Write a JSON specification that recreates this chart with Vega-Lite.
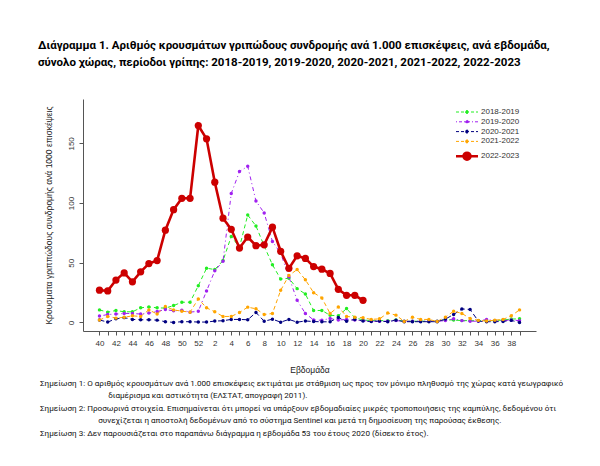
{
"$schema": "https://vega.github.io/schema/vega-lite/v6.json",
"padding": {"left": 38, "top": 39, "right": 5, "bottom": 5},
"config": {
  "view": {"stroke": null},
  "font": "Liberation Sans",
  "axis": {"labelFont": "Liberation Sans", "titleFont": "Liberation Sans", "labelColor": "#333", "titleColor": "#222", "domainColor": "#555", "tickColor": "#555", "grid": false},
  "legend": {"labelFont": "Liberation Sans"},
  "concat": {"spacing": 0}
},
"datasets": {"flu": [
{"season":"2018-2019","week":40,"cases":10.5},{"season":"2018-2019","week":41,"cases":8.6},{"season":"2018-2019","week":42,"cases":10},{"season":"2018-2019","week":43,"cases":8.9},{"season":"2018-2019","week":44,"cases":8.9},{"season":"2018-2019","week":45,"cases":12.2},{"season":"2018-2019","week":46,"cases":13},{"season":"2018-2019","week":47,"cases":12.2},{"season":"2018-2019","week":48,"cases":12},{"season":"2018-2019","week":49,"cases":14.1},{"season":"2018-2019","week":50,"cases":16.9},{"season":"2018-2019","week":51,"cases":16.9},{"season":"2018-2019","week":52,"cases":30.8},{"season":"2018-2019","week":1,"cases":45.4},{"season":"2018-2019","week":2,"cases":44.3},{"season":"2018-2019","week":3,"cases":51.8},{"season":"2018-2019","week":4,"cases":72},{"season":"2018-2019","week":5,"cases":63},{"season":"2018-2019","week":6,"cases":90},{"season":"2018-2019","week":7,"cases":80.8},{"season":"2018-2019","week":8,"cases":64},{"season":"2018-2019","week":9,"cases":48.3},{"season":"2018-2019","week":10,"cases":36.3},{"season":"2018-2019","week":11,"cases":37},{"season":"2018-2019","week":12,"cases":28.3},{"season":"2018-2019","week":13,"cases":23.8},{"season":"2018-2019","week":14,"cases":10},{"season":"2018-2019","week":15,"cases":10},{"season":"2018-2019","week":16,"cases":6},{"season":"2018-2019","week":17,"cases":5.5},{"season":"2018-2019","week":18,"cases":11.6},{"season":"2018-2019","week":19,"cases":4},{"season":"2018-2019","week":20,"cases":2},{"season":"2018-2019","week":21,"cases":1.5},{"season":"2018-2019","week":22,"cases":1.5},{"season":"2018-2019","week":23,"cases":1.5},{"season":"2018-2019","week":24,"cases":2},{"season":"2018-2019","week":25,"cases":1},{"season":"2018-2019","week":26,"cases":1},{"season":"2018-2019","week":27,"cases":1},{"season":"2018-2019","week":28,"cases":1},{"season":"2018-2019","week":29,"cases":1},{"season":"2018-2019","week":30,"cases":2.2},{"season":"2018-2019","week":31,"cases":2},{"season":"2018-2019","week":32,"cases":1.5},{"season":"2018-2019","week":33,"cases":1.5},{"season":"2018-2019","week":34,"cases":1.5},{"season":"2018-2019","week":35,"cases":1.5},{"season":"2018-2019","week":36,"cases":1.5},{"season":"2018-2019","week":37,"cases":2},{"season":"2018-2019","week":38,"cases":2.8},{"season":"2018-2019","week":39,"cases":3},
{"season":"2019-2020","week":40,"cases":5.3},{"season":"2019-2020","week":41,"cases":6.6},{"season":"2019-2020","week":42,"cases":7},{"season":"2019-2020","week":43,"cases":7.5},{"season":"2019-2020","week":44,"cases":7.5},{"season":"2019-2020","week":45,"cases":7},{"season":"2019-2020","week":46,"cases":7.8},{"season":"2019-2020","week":47,"cases":9.1},{"season":"2019-2020","week":48,"cases":10.8},{"season":"2019-2020","week":49,"cases":9.7},{"season":"2019-2020","week":50,"cases":10.2},{"season":"2019-2020","week":51,"cases":8.6},{"season":"2019-2020","week":52,"cases":9.3},{"season":"2019-2020","week":1,"cases":26.3},{"season":"2019-2020","week":2,"cases":43.2},{"season":"2019-2020","week":3,"cases":51.3},{"season":"2019-2020","week":4,"cases":108},{"season":"2019-2020","week":5,"cases":126.4},{"season":"2019-2020","week":6,"cases":130.8},{"season":"2019-2020","week":7,"cases":101.7},{"season":"2019-2020","week":8,"cases":91.7},{"season":"2019-2020","week":9,"cases":67.8},{"season":"2019-2020","week":10,"cases":58},{"season":"2019-2020","week":11,"cases":38},{"season":"2019-2020","week":12,"cases":18.5},{"season":"2019-2020","week":13,"cases":7.5},{"season":"2019-2020","week":14,"cases":2},{"season":"2019-2020","week":15,"cases":1.8},{"season":"2019-2020","week":16,"cases":3.3},{"season":"2019-2020","week":17,"cases":2},{"season":"2019-2020","week":18,"cases":2.5},{"season":"2019-2020","week":19,"cases":2},{"season":"2019-2020","week":20,"cases":1.5},{"season":"2019-2020","week":21,"cases":1},{"season":"2019-2020","week":22,"cases":1},{"season":"2019-2020","week":23,"cases":1},{"season":"2019-2020","week":24,"cases":1.5},{"season":"2019-2020","week":25,"cases":1},{"season":"2019-2020","week":26,"cases":1},{"season":"2019-2020","week":27,"cases":1},{"season":"2019-2020","week":28,"cases":1},{"season":"2019-2020","week":29,"cases":1},{"season":"2019-2020","week":30,"cases":1.5},{"season":"2019-2020","week":31,"cases":3},{"season":"2019-2020","week":32,"cases":1.5},{"season":"2019-2020","week":33,"cases":1},{"season":"2019-2020","week":34,"cases":1},{"season":"2019-2020","week":35,"cases":2.5},{"season":"2019-2020","week":36,"cases":1.5},{"season":"2019-2020","week":37,"cases":1.5},{"season":"2019-2020","week":38,"cases":2},{"season":"2019-2020","week":39,"cases":1.5},
{"season":"2020-2021","week":40,"cases":2},{"season":"2020-2021","week":41,"cases":0.3},{"season":"2020-2021","week":42,"cases":3},{"season":"2020-2021","week":43,"cases":4},{"season":"2020-2021","week":44,"cases":2.5},{"season":"2020-2021","week":45,"cases":2.2},{"season":"2020-2021","week":46,"cases":2.2},{"season":"2020-2021","week":47,"cases":1.9},{"season":"2020-2021","week":48,"cases":0.6},{"season":"2020-2021","week":49,"cases":0},{"season":"2020-2021","week":50,"cases":0.6},{"season":"2020-2021","week":51,"cases":0.6},{"season":"2020-2021","week":52,"cases":0.3},{"season":"2020-2021","week":1,"cases":0.3},{"season":"2020-2021","week":2,"cases":1.1},{"season":"2020-2021","week":3,"cases":1.4},{"season":"2020-2021","week":4,"cases":2.5},{"season":"2020-2021","week":5,"cases":2.5},{"season":"2020-2021","week":6,"cases":2.2},{"season":"2020-2021","week":7,"cases":8.3},{"season":"2020-2021","week":8,"cases":1},{"season":"2020-2021","week":9,"cases":2.7},{"season":"2020-2021","week":10,"cases":0.2},{"season":"2020-2021","week":11,"cases":2.5},{"season":"2020-2021","week":12,"cases":0.2},{"season":"2020-2021","week":13,"cases":1.2},{"season":"2020-2021","week":14,"cases":0.7},{"season":"2020-2021","week":15,"cases":0.5},{"season":"2020-2021","week":16,"cases":0.5},{"season":"2020-2021","week":17,"cases":4.2},{"season":"2020-2021","week":18,"cases":1},{"season":"2020-2021","week":19,"cases":2.5},{"season":"2020-2021","week":20,"cases":1.1},{"season":"2020-2021","week":21,"cases":0.7},{"season":"2020-2021","week":22,"cases":1.1},{"season":"2020-2021","week":23,"cases":0.6},{"season":"2020-2021","week":24,"cases":1.9},{"season":"2020-2021","week":25,"cases":0.6},{"season":"2020-2021","week":26,"cases":0.6},{"season":"2020-2021","week":27,"cases":0.6},{"season":"2020-2021","week":28,"cases":0.6},{"season":"2020-2021","week":29,"cases":0.6},{"season":"2020-2021","week":30,"cases":2.8},{"season":"2020-2021","week":31,"cases":6.6},{"season":"2020-2021","week":32,"cases":11.3},{"season":"2020-2021","week":33,"cases":10.8},{"season":"2020-2021","week":34,"cases":1.1},{"season":"2020-2021","week":35,"cases":0.6},{"season":"2020-2021","week":36,"cases":0.6},{"season":"2020-2021","week":37,"cases":0.8},{"season":"2020-2021","week":38,"cases":1.7},{"season":"2020-2021","week":39,"cases":0},
{"season":"2021-2022","week":40,"cases":2},{"season":"2021-2022","week":41,"cases":5},{"season":"2021-2022","week":42,"cases":3.6},{"season":"2021-2022","week":43,"cases":4.3},{"season":"2021-2022","week":44,"cases":5.5},{"season":"2021-2022","week":45,"cases":5},{"season":"2021-2022","week":46,"cases":10.5},{"season":"2021-2022","week":47,"cases":7},{"season":"2021-2022","week":48,"cases":13.3},{"season":"2021-2022","week":49,"cases":10.5},{"season":"2021-2022","week":50,"cases":9.4},{"season":"2021-2022","week":51,"cases":8.6},{"season":"2021-2022","week":52,"cases":19.7},{"season":"2021-2022","week":1,"cases":12.2},{"season":"2021-2022","week":2,"cases":8.9},{"season":"2021-2022","week":3,"cases":5},{"season":"2021-2022","week":4,"cases":5},{"season":"2021-2022","week":5,"cases":8.3},{"season":"2021-2022","week":6,"cases":12.8},{"season":"2021-2022","week":7,"cases":11.4},{"season":"2021-2022","week":8,"cases":6.6},{"season":"2021-2022","week":9,"cases":7.5},{"season":"2021-2022","week":10,"cases":26.9},{"season":"2021-2022","week":11,"cases":39.3},{"season":"2021-2022","week":12,"cases":44.3},{"season":"2021-2022","week":13,"cases":35.7},{"season":"2021-2022","week":14,"cases":24.9},{"season":"2021-2022","week":15,"cases":20.5},{"season":"2021-2022","week":16,"cases":7.5},{"season":"2021-2022","week":17,"cases":13},{"season":"2021-2022","week":18,"cases":5},{"season":"2021-2022","week":19,"cases":4.4},{"season":"2021-2022","week":20,"cases":3.9},{"season":"2021-2022","week":21,"cases":2.5},{"season":"2021-2022","week":22,"cases":3},{"season":"2021-2022","week":23,"cases":7.8},{"season":"2021-2022","week":24,"cases":6.1},{"season":"2021-2022","week":25,"cases":0.8},{"season":"2021-2022","week":26,"cases":4.4},{"season":"2021-2022","week":27,"cases":2.5},{"season":"2021-2022","week":28,"cases":2.5},{"season":"2021-2022","week":29,"cases":0.8},{"season":"2021-2022","week":30,"cases":4.4},{"season":"2021-2022","week":31,"cases":9.4},{"season":"2021-2022","week":32,"cases":7.5},{"season":"2021-2022","week":33,"cases":3.3},{"season":"2021-2022","week":34,"cases":1.7},{"season":"2021-2022","week":35,"cases":1.1},{"season":"2021-2022","week":36,"cases":1.9},{"season":"2021-2022","week":37,"cases":2.5},{"season":"2021-2022","week":38,"cases":5.5},{"season":"2021-2022","week":39,"cases":10.5},
{"season":"2022-2023","week":40,"cases":27},{"season":"2022-2023","week":41,"cases":26.4},{"season":"2022-2023","week":42,"cases":35.5},{"season":"2022-2023","week":43,"cases":41.5},{"season":"2022-2023","week":44,"cases":34},{"season":"2022-2023","week":45,"cases":42.4},{"season":"2022-2023","week":46,"cases":49.3},{"season":"2022-2023","week":47,"cases":51.8},{"season":"2022-2023","week":48,"cases":77.3},{"season":"2022-2023","week":49,"cases":94.5},{"season":"2022-2023","week":50,"cases":104},{"season":"2022-2023","week":51,"cases":104},{"season":"2022-2023","week":52,"cases":165},{"season":"2022-2023","week":1,"cases":153.8},{"season":"2022-2023","week":2,"cases":117.5},{"season":"2022-2023","week":3,"cases":87.3},{"season":"2022-2023","week":4,"cases":78},{"season":"2022-2023","week":5,"cases":62.3},{"season":"2022-2023","week":6,"cases":71.5},{"season":"2022-2023","week":7,"cases":64.3},{"season":"2022-2023","week":8,"cases":65},{"season":"2022-2023","week":9,"cases":79.8},{"season":"2022-2023","week":10,"cases":59.6},{"season":"2022-2023","week":11,"cases":45.3},{"season":"2022-2023","week":12,"cases":55.8},{"season":"2022-2023","week":13,"cases":53.6},{"season":"2022-2023","week":14,"cases":46.8},{"season":"2022-2023","week":15,"cases":44.6},{"season":"2022-2023","week":16,"cases":41},{"season":"2022-2023","week":17,"cases":27.7},{"season":"2022-2023","week":18,"cases":22.7},{"season":"2022-2023","week":19,"cases":22.7},{"season":"2022-2023","week":20,"cases":18.5}
]},
"title": {
  "text": [
    "Σημείωση 1: Ο αριθμός κρουσμάτων ανά 1.000 επισκέψεις εκτιμάται με στάθμιση ως προς τον μόνιμο πληθυσμό της χώρας κατά γεωγραφικό",
    "\u200b\u00a0\u00a0\u00a0\u00a0\u00a0\u00a0\u00a0\u00a0\u00a0\u00a0\u00a0\u00a0\u00a0\u00a0\u00a0\u00a0\u00a0\u00a0\u00a0\u00a0\u00a0\u00a0\u00a0\u00a0\u00a0\u00a0\u00a0\u00a0\u00a0\u00a0\u00a0\u00a0\u00a0\u00a0διαμέρισμα και αστικότητα (ΕΛΣΤΑΤ, απογραφή 2011).",
    "Σημείωση 2: Προσωρινά στοιχεία. Επισημαίνεται ότι μπορεί να υπάρξουν εβδομαδιαίες μικρές τροποποιήσεις της καμπύλης, δεδομένου ότι",
    "\u200b\u00a0\u00a0\u00a0\u00a0\u00a0\u00a0\u00a0\u00a0\u00a0\u00a0\u00a0\u00a0\u00a0\u00a0\u00a0\u00a0\u00a0\u00a0\u00a0\u00a0\u00a0\u00a0\u00a0\u00a0\u00a0\u00a0\u00a0\u00a0\u00a0συνεχίζεται η αποστολή δεδομένων από το σύστημα Sentinel και μετά τη δημοσίευση της παρούσας έκθεσης.",
    "Σημείωση 3: Δεν παρουσιάζεται στο παραπάνω διάγραμμα η εβδομάδα 53 του έτους 2020 (δίσεκτο έτος)."
  ],
  "orient": "bottom", "anchor": "start", "frame": "bounds",
  "font": "Roboto",
  "fontSize": 8.1, "fontWeight": "normal", "color": "#111", "lineHeight": 12.5, "offset": 6, "dx": 2
},
"vconcat": [{
  "width": 453, "height": 232,
  "title": {
    "text": ["Διάγραμμα 1. Αριθμός κρουσμάτων γριπώδους συνδρομής ανά 1.000 επισκέψεις, ανά εβδομάδα,", "σύνολο χώρας, περίοδοι γρίπης: 2018-2019, 2019-2020, 2020-2021, 2021-2022, 2022-2023"],
    "anchor": "start", "frame": "group",
    "font": "Roboto",
    "fontSize": 11.5, "fontWeight": "bold", "color": "#000", "lineHeight": 17, "offset": 31, "dx": -45
  },
  "data": {"name": "flu"},
  "encoding": {
    "x": {"field": "week", "type": "ordinal",
      "scale": {"type": "point", "padding": 1.04, "domain": [-1,40,41,42,43,44,45,46,47,48,49,50,51,52,1,2,3,4,5,6,7,8,9,10,11,12,13,14,15,16,17,18,19,20,21,22,23,24,25,26,27,28,29,30,31,32,33,34,35,36,37,38,39,99]},
      "axis": {"title": "Εβδομάδα", "values": [40,41,42,43,44,45,46,47,48,49,50,51,52,1,2,3,4,5,6,7,8,9,10,11,12,13,14,15,16,17,18,19,20,21,22,23,24,25,26,27,28,29,30,31,32,33,34,35,36,37,38,39], "labelExpr": "datum.value % 2 === 0 ? datum.label : ''", "labelAngle": 0, "labelOverlap": false, "labelFontSize": 8, "labelPadding": 4, "tickSize": 4, "titleFontSize": 8.5, "titleFontWeight": "normal", "titlePadding": 18}},
    "y": {"field": "cases", "type": "quantitative",
      "scale": {"domain": [-7.2, 187.2], "nice": false, "zero": false},
      "axis": {"title": "Κρουσματα γριππώδους συνδρομής ανά 1000 επισκέψεις", "values": [0, 50, 100, 150], "labelAngle": 270, "labelAlign": "center", "labelBaseline": "bottom", "labelFontSize": 8, "labelPadding": 4, "tickSize": 4, "titleFontSize": 8.5, "titleFontWeight": "normal", "titlePadding": 14}},
    "color": {"field": "season", "type": "nominal",
      "scale": {"domain": ["2018-2019", "2019-2020", "2020-2021", "2021-2022", "2022-2023"], "range": ["#22ee22", "#a020f0", "#000080", "#ffa500", "#cc0000"]},
      "legend": {
        "orient": "none", "legendX": 380, "legendY": 9, "title": null,
        "labelFontSize": 8, "labelColor": "#333", "labelOffset": 10, "rowPadding": 1.8,
        "symbolSize": 100, "symbolType": "M-2.2,0L2.2,0M-0.3,0A0.3,0.3,0,1,0,0.3,0A0.3,0.3,0,1,0,-0.3,0Z",
        "symbolStrokeWidth": 1, "symbolOpacity": 1,
        "encode": {"symbols": {"update": {
          "strokeWidth": {"signal": "datum.value === '2022-2023' ? 2.5 : 1"},
          "shape": {"signal": "datum.value === '2022-2023' ? 'M-2.2,0L2.2,0M-0.7,0A0.7,0.7,0,1,0,0.7,0A0.7,0.7,0,1,0,-0.7,0Z' : 'M-2.2,0L2.2,0M-0.3,0A0.3,0.3,0,1,0,0.3,0A0.3,0.3,0,1,0,-0.3,0Z'"},
          "strokeDash": {"signal": "datum.value === '2022-2023' ? [] : (datum.value === '2019-2020' ? [1, 2, 3, 2] : [3, 2])"}
        }}}
      }}
  },
  "layer": [
    {"transform": [{"filter": "datum.season !== '2022-2023'"}],
     "mark": {"type": "line", "strokeWidth": 1},
     "encoding": {"strokeDash": {"field": "season", "type": "nominal", "legend": null,
       "scale": {"domain": ["2018-2019", "2019-2020", "2020-2021", "2021-2022"], "range": [[4, 3], [1, 3, 4, 3], [5, 3], [4, 3]]}}}},
    {"transform": [{"filter": "datum.season !== '2022-2023'"}],
     "mark": {"type": "point", "filled": true, "size": 12, "opacity": 1}},
    {"transform": [{"filter": "datum.season === '2022-2023'"}],
     "mark": {"type": "line", "strokeWidth": 2.6}},
    {"transform": [{"filter": "datum.season === '2022-2023'"}],
     "mark": {"type": "point", "filled": true, "size": 52, "opacity": 1}}
  ]
}]
}
